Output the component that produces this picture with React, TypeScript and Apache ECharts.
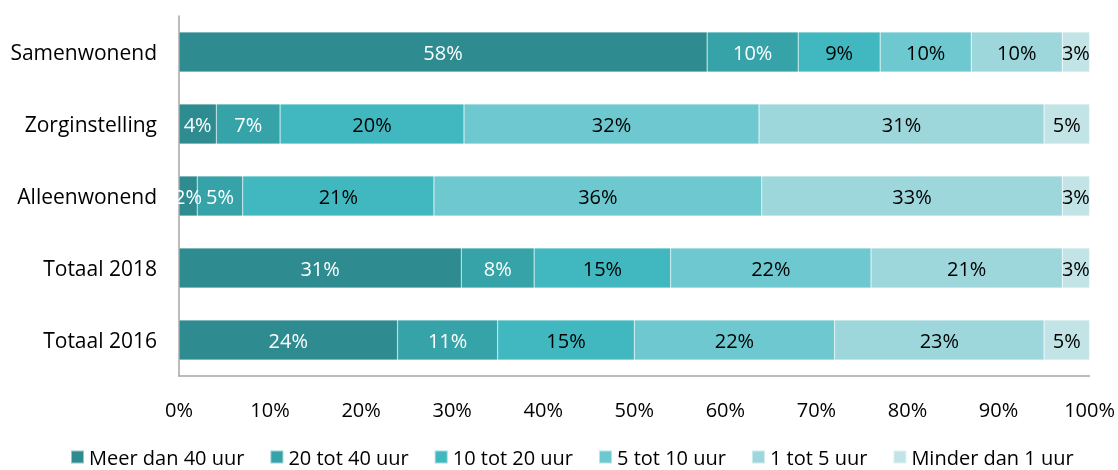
import React, { useEffect, useRef } from "react";
import * as echarts from "echarts";

const categories = ["Samenwonend", "Zorginstelling", "Alleenwonend", "Totaal 2018", "Totaal 2016"];
const seriesNames = ["Meer dan 40 uur", "20 tot 40 uur", "10 tot 20 uur", "5 tot 10 uur", "1 tot 5 uur", "Minder dan 1 uur"];
const meerDan40 = [58, 4.1, 2, 31, 24];
const tot40 = [10, 7, 5, 8, 11];
const tot20 = [9, 20.2, 21, 15, 15];
const tot10 = [10, 32.4, 36, 22, 22];
const tot5 = [10, 31.3, 33, 21, 23];
const minderDan1 = [3, 5, 3, 3, 5];
const xTicks = [0, 10, 20, 30, 40, 50, 60, 70, 80, 90, 100];

const colors = ["#2E8B90", "#36A3A8", "#41B8BF", "#6DC8CF", "#9DD6DB", "#C2E4E6"];
const labelColors = ["#ffffff", "#ffffff", "#000000", "#000000", "#000000", "#000000"];
const FONT = "'Open Sans', 'Noto Sans', sans-serif";

export default function App() {
  const ref = useRef<HTMLDivElement>(null);
  useEffect(() => {
    const chart = echarts.init(ref.current!, null, { renderer: "svg" });
    const all = [meerDan40, tot40, tot20, tot10, tot5, minderDan1];
    chart.setOption({
      animation: false,
      grid: { left: 179, right: 28, top: 16, bottom: 94, containLabel: false },
      legend: {
        top: 447,
        left: 70,
        padding: 0,
        itemWidth: 13,
        itemHeight: 13,
        itemGap: 25,
        icon: "rect",
        textStyle: { fontFamily: FONT, fontSize: 20, lineHeight: 20, color: "#000" },
        data: seriesNames,
      },
      xAxis: {
        type: "value",
        min: xTicks[0],
        max: xTicks[xTicks.length - 1],
        interval: 10,
        axisLine: { show: true, lineStyle: { color: "#A6A6A6", width: 1.5 } },
        axisTick: { show: false },
        splitLine: { show: false },
        axisLabel: { formatter: "{value}%", fontFamily: FONT, fontSize: 20, color: "#000", margin: 23 },
      },
      yAxis: {
        type: "category",
        data: categories,
        inverse: true,
        axisLine: { show: true, lineStyle: { color: "#A6A6A6", width: 1.5 } },
        axisTick: { show: false },
        axisLabel: { fontFamily: FONT, fontSize: 21, color: "#000", margin: 22 },
      },
      series: seriesNames.map((name, i) => ({
        name,
        type: "bar",
        stack: "total",
        barWidth: 40,
        data: all[i],
        itemStyle: { color: colors[i], borderColor: "rgba(255,255,255,0.5)", borderWidth: 0.5 },
        label: {
          show: true,
          position: "inside",
          formatter: (p: any) => Math.round(p.value) + "%",
          fontFamily: FONT,
          fontSize: 20,
          color: labelColors[i],
        },
      })),
    });
    return () => chart.dispose();
  }, []);
  return <div ref={ref} style={{ position: "fixed", left: 0, top: 0, width: 1118, height: 470 }} />;
}
